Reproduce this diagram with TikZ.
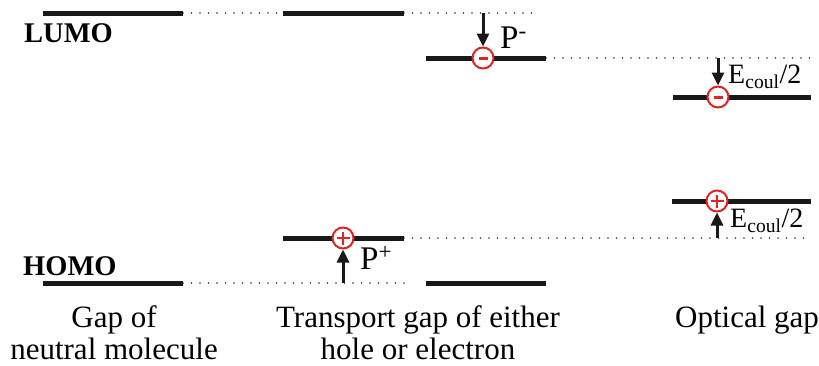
\documentclass[tikz,border=0pt]{standalone}
\usepackage{fontspec}
\setmainfont{Liberation Serif}
\usetikzlibrary{arrows.meta}
\definecolor{chargered}{RGB}{225,35,35}
\begin{document}
\begin{tikzpicture}[x=1pt,y=-1pt,
  orbital/.style={line width=5pt, black!90},
  guide/.style={line width=1.6pt, dash pattern=on 0pt off 8.5pt, line cap=round, black!80},
  movearrow/.style={line width=3pt, black!90, -{Triangle[length=13pt,width=12pt]}},
  charge/.style={circle, draw=chargered, line width=2pt, fill=white, minimum size=21pt, inner sep=0pt},
  minussign/.style={draw=chargered, line width=3pt},
  plussign/.style={draw=chargered, line width=2pt},
  lbl/.style={font=\fontsize{31}{36}\selectfont, inner sep=0pt},
  boldlbl/.style={font=\fontsize{28.5}{32}\selectfont\bfseries, inner sep=0pt},
  small/.style={font=\fontsize{28}{32}\selectfont, inner sep=0pt},
  plabel/.style={font=\fontsize{33}{38}\selectfont, inner sep=0pt}]
\useasboundingbox (0,0) rectangle (819,365);
% level end points
\coordinate (L1a) at (43,13);  \coordinate (L1b) at (183,13);
\coordinate (L2a) at (283,13); \coordinate (L2b) at (404,13);
\coordinate (L3a) at (426,58); \coordinate (L3b) at (546,58);
\coordinate (L4a) at (673,97); \coordinate (L4b) at (811,97);
\coordinate (H1a) at (43,283); \coordinate (H1b) at (183,283);
\coordinate (H2a) at (283,238);\coordinate (H2b) at (404,238);
\coordinate (H3a) at (426,283);\coordinate (H3b) at (546,283);
\coordinate (H4a) at (672,201);\coordinate (H4b) at (811,201);
% guide ends
\coordinate (g1) at (535,13);
\coordinate (g2) at (815,58);
\coordinate (g3) at (412,283);
\coordinate (g4) at (810,238);
% dotted guides
\draw[guide] (L1b) -- (L2a);
\draw[guide] (L2b) -- (g1);
\draw[guide] (L3b) -- (g2);
\draw[guide] (H1b) -- (g3);
\draw[guide] (H2b) -- (g4);
% levels
\foreach \a/\b in {L1a/L1b,L2a/L2b,L3a/L3b,L4a/L4b,H1a/H1b,H2a/H2b,H3a/H3b,H4a/H4b}
  \draw[orbital] (\a) -- (\b);
% charges
\node[charge] (m1) at (483,58) {};
\node[charge] (m2) at (718,97) {};
\node[charge] (p1) at (343,238) {};
\node[charge] (p2) at (717,201) {};
\foreach \n in {m1,m2}
  \draw[minussign] ([xshift=-4.5pt]\n.center) -- ([xshift=4.5pt]\n.center);
\foreach \n in {p1,p2}{
  \draw[plussign] ([xshift=-6.5pt]\n.center) -- ([xshift=6.5pt]\n.center);
  \draw[plussign] ([yshift=-6.5pt]\n.center) -- ([yshift=6.5pt]\n.center);}
% arrow starts
\coordinate (a1) at (483,13);
\coordinate (a2) at (718,58);
\coordinate (a3) at (343,283);
\coordinate (a4) at (717,238);
\draw[movearrow] (a1) -- (m1.north);
\draw[movearrow] (a2) -- (m2.north);
\draw[movearrow] (a3) -- (p1.south);
\draw[movearrow] (a4) -- (p2.south);
% labels
\node[boldlbl, anchor=base west] (lumo) at (24,42) {LUMO};
\node[boldlbl, anchor=base west] (homo) at (23,275) {HOMO};
\node[plabel, anchor=base west] (pm) at (500,48) {P\textsuperscript{-}};
\node[plabel, anchor=base west] (pp) at (360,269) {P\textsuperscript{+}};
\node[small, anchor=base west] (ec1) at (728,83) {E\textsubscript{coul}/2};
\node[small, anchor=base west] (ec2) at (730,227) {E\textsubscript{coul}/2};
\node[lbl, anchor=base] (t1a) at (114,327) {Gap of};
\node[lbl, anchor=base] (t1b) at (114,359) {neutral molecule};
\node[lbl, anchor=base] (t2a) at (418,327) {Transport gap of either};
\node[lbl, anchor=base] (t2b) at (418,359) {hole or electron};
\node[lbl, anchor=base west] (t3) at (675,327) {Optical gap};
\end{tikzpicture}
\end{document}
